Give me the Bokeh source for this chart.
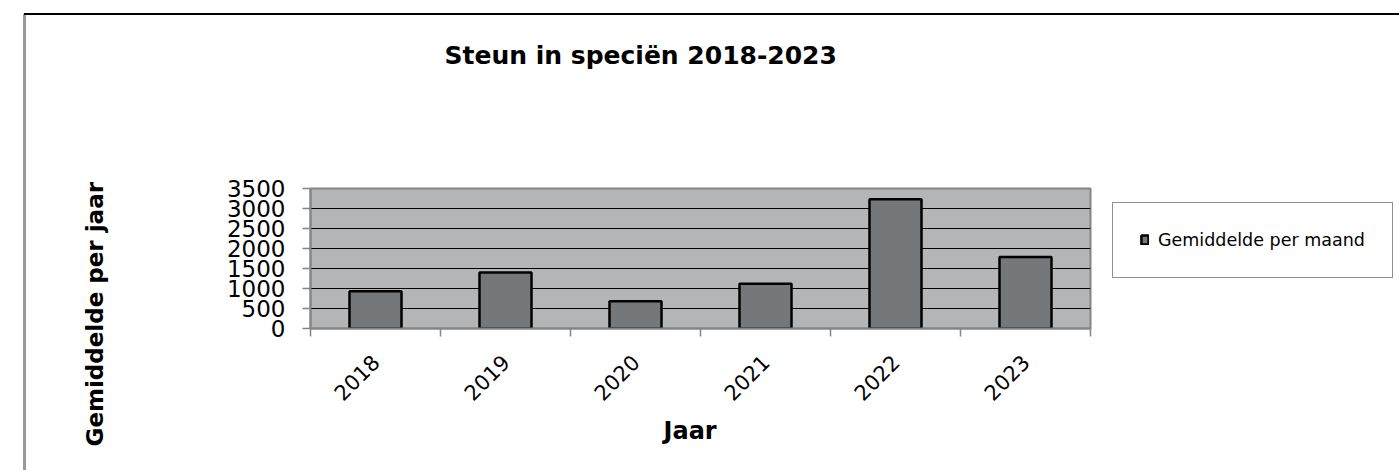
import math
from bokeh.plotting import figure
from bokeh.models import (ColumnDataSource, FixedTicker, Legend, LegendItem, Title, Range1d)
from bokeh.embed import file_html
from bokeh.resources import INLINE

# ---- data ----
years = ["2018", "2019", "2020", "2021", "2022", "2023"]
values = [930, 1400, 680, 1120, 3230, 1790]
y_ticks = [0, 500, 1000, 1500, 2000, 2500, 3000, 3500]
title_text = "Steun in speciën 2018-2023"
x_title = "Jaar"
y_title = "Gemiddelde per jaar"
series_name = "Gemiddelde per maand"

n = len(years)
centers = [i + 0.5 for i in range(n)]
bounds = list(range(n + 1))
src = ColumnDataSource(dict(x=centers, top=values, year=years))

GRAY = "#858585"
FONT = "DejaVu Sans"

p = figure(frame_width=780, frame_height=140,
           min_border_left=310, min_border_right=309,
           min_border_top=188, min_border_bottom=142,
           x_range=Range1d(0, n), y_range=Range1d(0, 3500),
           output_backend="svg", toolbar_location=None)

p.background_fill_color = "#b3b5b6"
p.border_fill_alpha = 0
p.outline_line_color = GRAY
p.outline_line_width = 2
p.styles = {
    "background-color": "white",
    "background-image": "linear-gradient(#000000,#000000), linear-gradient(#9a9a9a,#9a9a9a)",
    "background-size": "1375px 2px, 3px 456px",
    "background-position": "24px 13px, 23px 14px",
    "background-repeat": "no-repeat",
}

p.xgrid.visible = False
p.ygrid.ticker = FixedTicker(ticks=y_ticks)
p.ygrid.grid_line_color = "#000000"
p.ygrid.grid_line_width = 1

# y axis
p.yaxis.ticker = FixedTicker(ticks=y_ticks, minor_ticks=[])
p.yaxis.major_label_text_font = FONT
p.yaxis.major_label_text_font_size = "23px"
p.yaxis.major_label_text_color = "black"
p.yaxis.axis_line_color = GRAY
p.yaxis.axis_line_width = 2
p.yaxis.major_tick_out = 8
p.yaxis.major_tick_in = 0
p.yaxis.major_tick_line_color = GRAY
p.yaxis.major_tick_line_width = 1.5
p.yaxis.major_label_standoff = 17

# x axis (ticks at category boundaries, labels at centres)
p.xaxis.ticker = FixedTicker(ticks=centers, minor_ticks=bounds)
p.xaxis.major_label_overrides = {c: y for c, y in zip(centers, years)}
p.xaxis.major_tick_out = 0
p.xaxis.major_tick_in = 0
p.xaxis.minor_tick_out = 8
p.xaxis.minor_tick_in = 0
p.xaxis.minor_tick_line_color = GRAY
p.xaxis.minor_tick_line_width = 1.5
p.xaxis.axis_line_color = GRAY
p.xaxis.axis_line_width = 2
p.xaxis.major_label_orientation = math.pi / 4
p.xaxis.major_label_text_font = FONT
p.xaxis.major_label_text_font_size = "21px"
p.xaxis.major_label_text_color = "black"
p.xaxis.major_label_standoff = 22

r = p.vbar(x="x", top="top", bottom=0, width=0.4, source=src,
           fill_color="#75787a", line_color="black", line_width=2.5)

# chart title (spacer keeps it well above the plot area)
p.add_layout(Title(text=" ", text_font_size="1px", standoff=115), "above")
p.add_layout(Title(text=title_text, text_font=FONT, text_font_style="bold",
                   text_font_size="25px", text_color="black", align="left",
                   offset=134, vertical_align="middle", standoff=0), "above")

# y axis title
p.add_layout(Title(text=" ", text_font_size="1px", standoff=112), "left")
p.add_layout(Title(text=y_title, text_font=FONT, text_font_style="bold",
                   text_font_size="23px", text_color="black", align="left",
                   offset=-118, vertical_align="middle", standoff=0), "left")

# x axis title
p.add_layout(Title(text=x_title, text_font=FONT, text_font_style="bold",
                   text_font_size="24px", text_color="black", align="left",
                   offset=353, vertical_align="middle", standoff=10), "below")

# legend
legend = Legend(items=[LegendItem(label=series_name, renderers=[r])],
                location=(22, 50.5), padding=27, margin=0, glyph_width=9, glyph_height=11,
                label_standoff=9, label_text_font=FONT, label_text_font_size="17.5px",
                label_text_color="black", border_line_color="#222222",
                border_line_width=1, background_fill_color="white",
                background_fill_alpha=1.0)
p.add_layout(legend, "right")

open("out.html", "w").write(file_html(p, INLINE))
